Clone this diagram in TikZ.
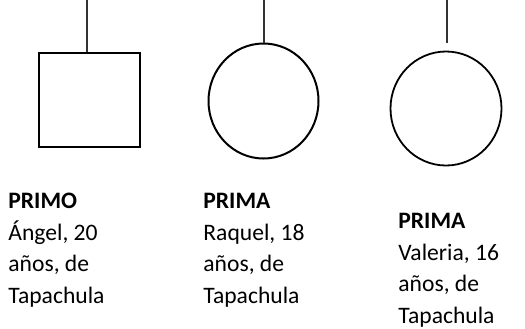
\documentclass[tikz,border=0pt]{standalone}
\usepackage{fontspec}
\setmainfont{Carlito}
\usetikzlibrary{shapes.geometric}
\tikzset{%
	person male/.style={
		draw,
		rectangle,
		line width=1pt,
		inner sep=0pt,
		minimum width=50.5pt,
		minimum height=47pt
	},
	person female/.style={
		draw,
		ellipse,
		line width=1pt,
		inner sep=0pt,
		minimum width=55pt,
		minimum height=57.5pt
	},
	family line/.style={
		draw=black!80,
		line width=0.6pt
	},
	person label/.style={
		anchor=north west,
		align=left,
		inner sep=0pt,
		font=\fontsize{11.8}{15.75}\selectfont
	},
}
\begin{document}
\begin{tikzpicture}[x=0.5pt, y=-0.5pt]
	\useasboundingbox (0,0) rectangle (525,328);

	% Draw the square (primo)
	\node[person male] (primo) at (89,99.5) {};
	\coordinate (top1) at (87,0);
	\draw[family line] (top1) -- (top1 |- primo.north);
	\node[person label] (primo text) at (8,193) {\textbf{PRIMO}\\Ángel, 20\\años, de\\Tapachula};

	% Draw the first circle (prima)
	\node[person female] (raquel) at (263.5,101) {};
	\coordinate (top2) at (264,0);
	\draw[family line] (top2) -- (top2 |- raquel.north);
	\node[person label] (raquel text) at (203,193) {\textbf{PRIMA}\\Raquel, 18\\años, de\\Tapachula};

	% Draw the second circle (prima)
	\node[person female, minimum width=55.5pt, minimum height=57pt, line width=0.9pt] (valeria) at (446,108.5) {};
	\coordinate (top3) at (447,0);
	\draw[family line] (top3) -- ([yshift=4pt]top3 |- valeria.north);
	\node[person label] (valeria text) at (398,213) {\textbf{PRIMA}\\Valeria, 16\\años, de\\Tapachula};
\end{tikzpicture}
\end{document}
